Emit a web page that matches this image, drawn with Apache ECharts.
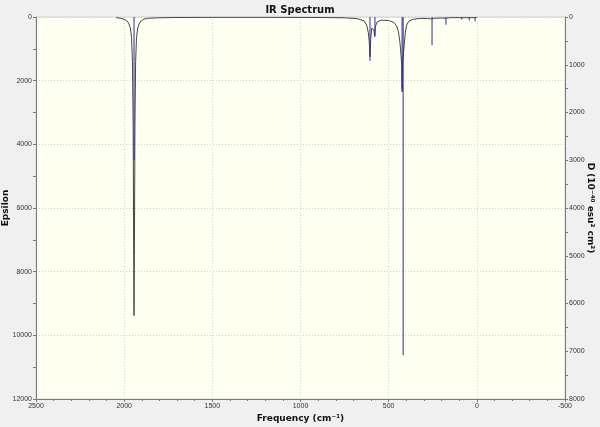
<!DOCTYPE html>
<html>
<head>
<meta charset="utf-8">
<script src="https://cdn.jsdelivr.net/npm/echarts@6/dist/echarts.min.js"></script>
<style>
html,body{margin:0;padding:0;background:#f0f0f0;}
#chart{width:600px;height:427px;}
</style>
</head>
<body>
<div id="chart"></div>
<script>
// Epsilon curve: frequency (cm-1) and epsilon
var epsFreq = [2046,2020,2000,1985,1975,1965,1958,1953,1949,1946,1944,1942,1939,1935,1930,1923,1913,1903,1888,1868,1800,1700,1500,1200,900,750,680,640,625,615,610,606,602,596,590,584,579,575,565,540,500,470,455,445,436,430,426,424,421,417,412,406,398,385,360,320,280,262,256,252,240,200,178,172,150,100,86,60,45,30,12,0];
var epsVal  = [20,40,70,120,190,340,650,1400,3400,7500,9380,7500,3400,1400,650,340,190,120,70,40,25,15,10,10,15,25,50,120,250,500,800,1250,700,350,300,400,600,300,150,100,110,170,280,450,800,1200,1500,2350,1500,1200,900,500,250,130,70,45,45,60,90,60,40,30,40,30,20,20,25,20,25,20,25,15];

// Stick spectrum: frequency (cm-1) and dipole strength D (10^-40 esu^2 cm^2)
var stickFreq = [1944,606,578,424,418,254,175,86,43,10];
var stickD    = [3000,920,420,1500,7080,590,160,50,70,90];

// Axis ticks
var xTicks = {min:-500, max:2500, interval:500};
var yLeftTicks = {min:0, max:12000, interval:2000};
var yRightTicks = {min:0, max:8000, interval:1000};

var epsData = epsFreq.map(function(f,i){return [f, epsVal[i]];});
var stickData = [];
stickFreq.forEach(function(f,i){
  stickData.push([f,0]);
  stickData.push([f,stickD[i]]);
  stickData.push([f,'-']);
});

function plain(v){ return String(v); }
var labelStyle = {fontSize:7, color:'#333', fontFamily:'Liberation Sans', formatter:plain};
var axisLineStyle = {show:true, onZero:false, lineStyle:{color:'#7a7a7a', width:1}};
var nameStyle = {fontSize:9, fontWeight:'bold', color:'#111', fontFamily:'DejaVu Sans'};

var chart = echarts.init(document.getElementById('chart'), null, {renderer:'canvas'});
chart.setOption({
  backgroundColor:'#f0f0f0',
  animation:false,
  title:{
    text:'IR Spectrum', left:'center', top:0,
    textStyle:{fontSize:10, fontWeight:'bold', color:'#111', fontFamily:'DejaVu Sans'}
  },
  grid:{
    left:36, right:35, top:17, bottom:28,
    containLabel:false, outerBoundsMode:'none',
    show:true, backgroundColor:'#fffff2', borderColor:'#d4d4d4', borderWidth:1
  },
  xAxis:{
    type:'value', min:xTicks.min, max:xTicks.max, interval:xTicks.interval, inverse:true,
    name:'Frequency (cm⁻¹)', nameLocation:'middle', nameGap:15, nameMoveOverlap:false,
    nameTextStyle:nameStyle,
    axisLine:axisLineStyle,
    axisTick:{show:true, length:3, lineStyle:{color:'#7a7a7a'}},
    minorTick:{show:true, splitNumber:5, length:2, lineStyle:{color:'#7a7a7a'}},
    axisLabel:Object.assign({margin:4}, labelStyle),
    splitLine:{show:true, lineStyle:{color:'#d0d0d0', type:[1,2], width:1}}
  },
  yAxis:[{
    type:'value', min:yLeftTicks.min, max:yLeftTicks.max, interval:yLeftTicks.interval, inverse:true,
    position:'left',
    name:'Epsilon', nameLocation:'middle', nameGap:26, nameRotate:90, nameMoveOverlap:false,
    nameTextStyle:nameStyle,
    axisLine:axisLineStyle,
    axisTick:{show:true, length:3, lineStyle:{color:'#7a7a7a'}},
    minorTick:{show:true, splitNumber:2, length:3, lineStyle:{color:'#7a7a7a'}},
    axisLabel:Object.assign({margin:4}, labelStyle),
    splitLine:{show:true, lineStyle:{color:'#d0d0d0', type:[1,2], width:1}}
  },{
    type:'value', min:yRightTicks.min, max:yRightTicks.max, interval:yRightTicks.interval, inverse:true,
    position:'right',
    name:'D (10⁻⁴⁰ esu² cm²)', nameLocation:'middle', nameGap:21, nameRotate:-90, nameMoveOverlap:false,
    nameTextStyle:nameStyle,
    axisLine:axisLineStyle,
    axisTick:{show:true, length:3, lineStyle:{color:'#7a7a7a'}},
    minorTick:{show:true, splitNumber:2, length:3, lineStyle:{color:'#7a7a7a'}},
    axisLabel:Object.assign({margin:4}, labelStyle),
    splitLine:{show:false}
  }],
  series:[{
    name:'Epsilon', type:'line', yAxisIndex:0, data:epsData,
    showSymbol:false, symbol:'none', smooth:false,
    lineStyle:{color:'#454545', width:1}, z:2
  },{
    name:'D', type:'line', yAxisIndex:1, data:stickData,
    showSymbol:false, symbol:'none', connectNulls:false,
    lineStyle:{color:'#2c2c9a', width:1}, z:3
  }]
});
</script>
</body>
</html>
